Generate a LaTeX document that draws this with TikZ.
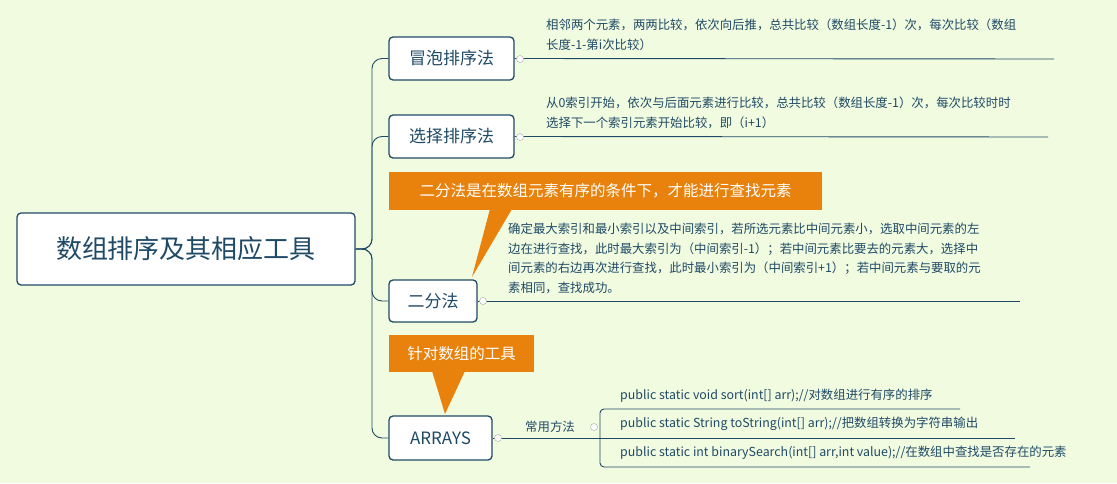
\documentclass[tikz,border=0pt]{standalone}
\usepackage{fontspec}
\setmainfont{Noto Sans CJK SC}
\begin{document}
\begin{tikzpicture}[x=1pt,y=-1pt,
  line/.style={draw=navy,line width=0.9pt},
  br/.style={draw=navy,line width=1.3pt,rounded corners=4pt,fill=white,inner sep=0pt,font=\fontsize{17}{20}\selectfont,text=navy},
  txt/.style={anchor=north west,inner sep=0pt,font=\fontsize{12.4}{19.5}\selectfont,text=navy,align=left},
  call/.style={fill=orangec,text=white,font=\fontsize{15.5}{18}\selectfont\itshape,inner sep=0pt},
  dot/.style={circle,draw=gray!70,fill=white,inner sep=0pt,minimum size=7pt}]
\definecolor{navy}{HTML}{1F4A66}
\definecolor{orangec}{HTML}{E8820C}
\definecolor{bgc}{HTML}{F1FBE0}
\fill[bgc] (0,0) rectangle (1117,483);
\useasboundingbox (0,0) rectangle (1117,483);
% root
\node[br,minimum width=338,minimum height=72,font=\fontsize{26}{30}\selectfont] (root) at (186,249) {数组排序及其相应工具};
\node[br,minimum width=125,minimum height=43] (b1) at (451.5,58.5) {冒泡排序法};
\node[br,minimum width=125,minimum height=43] (b2) at (451.5,136.5) {选择排序法};
\node[br,minimum width=88,minimum height=42] (b3) at (433,301) {二分法};
\node[br,minimum width=103,minimum height=44] (b4) at (440.5,438) {ARRAYS};
\coordinate (j) at (372,249);
\foreach \b in {b1,b2,b3,b4}{
  \draw[line,rounded corners=10pt] (root.east) -- (j) |- (\b.west);}
% underlines
\coordinate (e1) at (1054,59); \coordinate (e2) at (1048,137); \coordinate (e3) at (1020,301); \coordinate (e4) at (600,438);
\draw[line] (b1.east) -- (e1); \draw[line] (b2.east) -- (e2); \draw[line] (b3.east) -- (e3); \draw[line] (b4.east) -- (e4);
\node[dot] (d1) at (520,59) {}; \node[dot] (d2) at (520,137) {}; \node[dot] (d3) at (483,301) {}; \node[dot] (d4) at (498,438) {};
\node[txt] (t1) at (546,19) {相邻两个元素，两两比较，依次向后推，总共比较（数组长度-1）次，每次比较（数组\\长度-1-第i次比较）};
\node[txt] (t2) at (546,97) {从0索引开始，依次与后面元素进行比较，总共比较（数组长度-1）次，每次比较时时\\选择下一个索引元素开始比较，即（i+1）};
\node[txt] (t3) at (508,223) {确定最大索引和最小索引以及中间索引，若所选元素比中间元素小，选取中间元素的左\\边在进行查找，此时最大索引为（中间索引-1）；若中间元素比要去的元素大，选择中\\间元素的右边再次进行查找，此时最小索引为（中间索引+1）；若中间元素与要取的元\\素相同，查找成功。};
\node[txt,anchor=center] (t4) at (550,427) {常用方法};
% sub branches
\coordinate (s1) at (960,409); \coordinate (s2) at (1015,438); \coordinate (s3) at (1030,467);
\draw[line,rounded corners=4pt] (e4) -- (600,409) -- (s1);
\draw[line,rounded corners=4pt] (e4) -- (600,467) -- (s3);
\draw[line] (e4) -- (s2);
\node[dot] (d5) at (594,427) {};
\node[txt] (u1) at (620,389) {public static void sort(int[] arr);//对数组进行有序的排序};
\node[txt] (u2) at (620,417) {public static String toString(int[] arr);//把数组转换为字符串输出};
\node[txt] (u3) at (620,446) {public static int binarySearch(int[] arr,int value);//在数组中查找是否存在的元素};
% callouts
\node[call,minimum width=433,minimum height=38] (c1) at (605.5,191) {二分法是在数组元素有序的条件下，才能进行查找元素};
\fill[orangec] (490,209) -- (472,277) -- (512,209) -- cycle;
\node[call,minimum width=145,minimum height=37] (c2) at (461.5,353.5) {针对数组的工具};
\fill[orangec] (432,371) -- (445,414) -- (465,371) -- cycle;
\end{tikzpicture}
\end{document}
